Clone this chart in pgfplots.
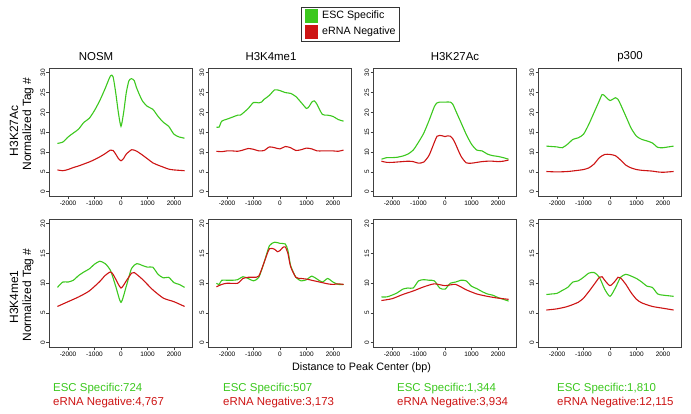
\documentclass[border=0pt]{standalone}
\usepackage{pgfplots}
\pgfplotsset{compat=1.18}
\usepackage{fontspec}
\setmainfont{Liberation Sans}
\definecolor{escg}{RGB}{60,200,30}
\definecolor{ernr}{RGB}{205,20,20}
\pgfplotsset{
  panel/.style={
    scale only axis, width=143bp, height=128.5bp,
    anchor=south west,
    xmin=-2700, xmax=2700,
    xtick={-2000,-1000,0,1000,2000},
    axis line style={black!75, line width=0.7bp},
    tick style={black!75, line width=0.6bp},
    tick align=outside, major tick length=3bp,
    xtick pos=bottom, ytick pos=left,
    tick label style={font=\fontsize{6.5}{7.5}\selectfont},
    xticklabel style={inner sep=1bp},
    yticklabel style={rotate=90, anchor=south, inner sep=1bp},
    /pgf/number format/assume math mode=true,
    /pgf/number format/1000 sep={},
    scaled ticks=false,
    clip=false,
  },
  toprow/.style={ymin=-1.2, ymax=31.2, ytick={0,5,...,30}},
  botrow/.style={ymin=-0.8, ymax=20.8, ytick={0,5,...,20}},
  gline/.style={escg, line width=1.1bp, smooth, tension=0.4},
  rline/.style={ernr, line width=1.1bp, smooth, tension=0.4},
}
\begin{document}
\begin{tikzpicture}
\useasboundingbox (0,0) rectangle (691bp,414bp);
% ---------- top row ----------
\begin{axis}[panel, toprow, at={(49.5bp,217.5bp)}]
\addplot[gline] coordinates {(-2400,12.2)(-2200,12.5)(-2000,13.8)(-1800,14.8)(-1600,15.8)(-1400,17.5)(-1200,18.5)(-1000,20.5)(-800,23)(-600,26)(-400,29.2)(-300,29)(-200,25)(-100,20)(0,16.5)(100,20)(200,25)(300,28)(400,28.5)(500,28)(600,26)(800,23)(1000,21.5)(1200,20.8)(1400,19)(1600,17.5)(1800,16.5)(2000,14.5)(2200,13.8)(2400,13.5)};
\addplot[rline] coordinates {(-2400,5.5)(-2200,5.3)(-2000,5.6)(-1800,6.1)(-1600,6.5)(-1400,7.0)(-1200,7.5)(-1000,8.1)(-800,8.8)(-600,9.6)(-400,10.5)(-300,10.4)(-200,9.5)(-100,8.4)(0,7.8)(100,8.4)(200,9.5)(400,10.6)(500,10.5)(600,10.2)(800,9.3)(1000,8.3)(1200,7.3)(1400,6.7)(1600,6.2)(1800,5.7)(2000,5.5)(2200,5.4)(2400,5.3)};
\end{axis}
\begin{axis}[panel, toprow, at={(208.5bp,217.5bp)}]
\addplot[gline] coordinates {(-2400,16.3)(-2300,16.3)(-2200,17.8)(-2000,18.3)(-1800,18.8)(-1600,19.3)(-1500,19.3)(-1400,19.8)(-1200,21)(-1000,22.5)(-800,22.4)(-700,22.6)(-600,23.3)(-400,24.3)(-200,25.7)(0,25.5)(200,25)(400,24.8)(600,24)(800,22.5)(1000,21)(1100,21.5)(1200,22.6)(1300,22.9)(1400,22)(1600,19.5)(1800,19.3)(2000,19)(2200,18.2)(2400,17.8)};
\addplot[rline] coordinates {(-2400,10.2)(-2200,10.1)(-2000,10.3)(-1800,10.3)(-1600,10.2)(-1400,10.5)(-1200,10.9)(-1000,10.7)(-800,10.3)(-600,10.4)(-400,11.3)(-200,11.1)(0,10.8)(200,11.4)(400,11.1)(600,10.4)(800,10.6)(1000,11.0)(1200,10.8)(1400,10.3)(1600,10.3)(1800,10.3)(2000,10.3)(2200,10.2)(2400,10.5)};
\end{axis}
\begin{axis}[panel, toprow, at={(373.5bp,217.5bp)}]
\addplot[gline] coordinates {(-2400,8.2)(-2200,8.6)(-2000,8.6)(-1800,8.7)(-1600,9.0)(-1400,9.5)(-1200,10.5)(-1000,12.5)(-800,14.8)(-600,18)(-400,21.5)(-300,22.4)(-200,22.6)(0,22.6)(200,22.6)(300,22)(400,20.5)(600,17.5)(800,14.5)(1000,12)(1200,10.5)(1400,10.3)(1600,9.5)(1800,9.1)(2000,8.9)(2200,8.6)(2400,8.2)};
\addplot[rline] coordinates {(-2400,7.7)(-2200,7.4)(-2000,7.4)(-1800,7.5)(-1600,7.6)(-1400,7.7)(-1200,7.6)(-1000,7.2)(-800,7.5)(-600,9.2)(-400,12.5)(-300,14)(-200,14.2)(-100,14.1)(0,13.9)(100,14.1)(200,14)(300,13.3)(400,12)(600,9)(800,7.3)(1000,7.2)(1200,7.4)(1400,7.6)(1600,7.7)(1800,7.7)(2000,7.6)(2200,7.7)(2400,8.0)};
\end{axis}
\begin{axis}[panel, toprow, at={(538.5bp,217.5bp)}]
\addplot[gline] coordinates {(-2400,11.5)(-2200,11.4)(-2000,11.3)(-1800,11.1)(-1600,12)(-1400,13.2)(-1200,13.6)(-1000,14.5)(-800,17)(-600,20)(-400,23)(-300,24.5)(-200,24.2)(-100,23.5)(0,23)(100,23.3)(200,23.7)(300,23.3)(400,22)(600,19)(800,16)(1000,14)(1200,13.2)(1400,12.8)(1600,12.3)(1800,11.2)(2000,11.1)(2200,11.3)(2400,11.5)};
\addplot[rline] coordinates {(-2400,5.1)(-2000,5.0)(-1600,5.1)(-1200,5.4)(-1000,5.6)(-800,6.0)(-600,7.0)(-400,8.6)(-200,9.4)(0,9.4)(200,9.1)(400,8)(600,6.7)(800,6.0)(1000,5.6)(1200,5.4)(1400,5.3)(1600,5.2)(1800,5.0)(2000,4.9)(2200,5.0)(2400,5.1)};
\end{axis}
% ---------- bottom row ----------
\begin{axis}[panel, botrow, at={(49.5bp,66.5bp)}]
\addplot[gline] coordinates {(-2400,9.3)(-2200,10.2)(-2000,10.2)(-1800,10.5)(-1600,11.3)(-1400,11.9)(-1200,12.4)(-1000,13.2)(-800,13.7)(-600,13.3)(-400,12.2)(-200,9.5)(0,6.8)(200,9.5)(400,12.5)(600,13.3)(800,13.0)(1000,12.7)(1200,12.7)(1400,11.5)(1600,10.9)(1800,11)(2000,10.1)(2200,9.8)(2400,9.3)};
\addplot[rline] coordinates {(-2400,6.1)(-2000,6.9)(-1600,7.7)(-1200,8.7)(-800,10.3)(-600,11.3)(-400,11.9)(-300,11.5)(-200,10.7)(0,9.2)(200,10.4)(400,11.7)(500,11.8)(800,10.7)(1200,8.9)(1600,7.5)(2000,6.9)(2400,6.1)};
\end{axis}
\begin{axis}[panel, botrow, at={(208.5bp,66.5bp)}]
\addplot[gline] coordinates {(-2400,10)(-2300,9.8)(-2200,10.5)(-2000,10.5)(-1800,10.5)(-1600,10.6)(-1400,11.1)(-1200,10.8)(-1000,10.4)(-800,11)(-600,13.5)(-400,16.3)(-200,16.9)(0,16.7)(200,16.6)(300,15.5)(400,13)(600,11)(800,10.4)(1000,10.6)(1200,11.2)(1400,10.7)(1600,10.2)(1800,10.8)(2000,10.2)(2200,9.8)(2400,9.8)};
\addplot[rline] coordinates {(-2400,9.4)(-2200,9.8)(-2000,10)(-1600,10)(-1400,10.8)(-1200,11)(-1000,11.0)(-800,11.2)(-600,13.5)(-400,15.8)(-200,15.7)(-100,15.3)(0,15.5)(100,16.0)(200,16.1)(300,15)(400,12.8)(600,11)(800,10.8)(1000,10.7)(1200,10.5)(1400,10.3)(1600,10.1)(1800,9.9)(2000,9.8)(2200,9.9)(2400,9.8)};
\end{axis}
\begin{axis}[panel, botrow, at={(373.5bp,66.5bp)}]
\addplot[gline] coordinates {(-2400,7.7)(-2200,7.7)(-2000,8.0)(-1800,8.4)(-1600,9.0)(-1400,9.2)(-1200,9.2)(-1000,10.4)(-800,10.6)(-600,10.5)(-400,10.4)(-200,9.2)(0,9.0)(200,10)(400,10.2)(600,10.5)(800,10.4)(1000,9.5)(1200,9.1)(1400,8.6)(1600,8.2)(1800,8.0)(2000,7.6)(2200,7.3)(2400,7.0)};
\addplot[rline] coordinates {(-2400,7.1)(-2000,7.4)(-1600,8.1)(-1200,8.7)(-800,9.4)(-400,9.9)(0,9.6)(400,9.8)(800,8.9)(1200,8.2)(1600,7.8)(2000,7.5)(2400,7.3)};
\end{axis}
\begin{axis}[panel, botrow, at={(538.5bp,66.5bp)}]
\addplot[gline] coordinates {(-2400,8.1)(-2200,8.2)(-2000,8.3)(-1800,8.8)(-1600,9.3)(-1400,10.2)(-1200,10.4)(-1000,11)(-800,11.7)(-600,11.8)(-400,11)(-200,9)(0,7.8)(200,9.2)(400,11)(600,11.5)(800,11.2)(1000,10.8)(1200,10.2)(1400,9.5)(1600,9.3)(1800,8.2)(2000,8.0)(2200,7.9)(2400,7.8)};
\addplot[rline] coordinates {(-2400,5.5)(-2000,5.7)(-1600,6.1)(-1200,6.8)(-1000,7.5)(-800,8.6)(-600,9.8)(-400,11.0)(-300,11.1)(-200,10.5)(0,9.6)(200,10.4)(300,11)(400,10.9)(600,9.8)(800,8.4)(1000,7.3)(1200,6.7)(1600,6.1)(2000,5.8)(2400,5.5)};
\end{axis}
% ---------- titles ----------
\begin{scope}[every node/.style={font=\fontsize{11.5}{13}\selectfont, inner sep=0pt}]
\node at (96bp,357bp) {NOSM};
\node at (271bp,357bp) {H3K4me1};
\node at (455bp,357bp) {H3K27Ac};
\node at (630bp,357bp) {p300};
\end{scope}
% ---------- row labels ----------
\begin{scope}[every node/.style={font=\fontsize{12}{13}\selectfont, inner sep=0pt, rotate=90}]
\node at (14bp,283bp) {H3K27Ac};
\node at (28bp,290bp) {Normalized Tag \#};
\node at (14bp,117bp) {H3K4me1};
\node at (28bp,119bp) {Normalized Tag \#};
\end{scope}
\node[font=\fontsize{10.8}{12}\selectfont, inner sep=0pt] at (361.5bp,46bp) {Distance to Peak Center (bp)};
% ---------- counts ----------
\begin{scope}[every node/.style={font=\fontsize{11.5}{13}\selectfont, inner sep=0pt, anchor=base west}]
\node[text=escg] at (53bp,23bp) {ESC Specific:724};
\node[text=ernr] at (53bp,9bp) {eRNA Negative:4,767};
\node[text=escg] at (223bp,23bp) {ESC Specific:507};
\node[text=ernr] at (223bp,9bp) {eRNA Negative:3,173};
\node[text=escg] at (397bp,23bp) {ESC Specific:1,344};
\node[text=ernr] at (397bp,9bp) {eRNA Negative:3,934};
\node[text=escg] at (557bp,23bp) {ESC Specific:1,810};
\node[text=ernr] at (557bp,9bp) {eRNA Negative:12,115};
\end{scope}
% ---------- legend ----------
\draw[black!80, line width=0.6bp] (301bp,373bp) rectangle (399bp,407bp);
\fill[escg] (305bp,391bp) rectangle (318bp,405bp);
\fill[ernr] (305bp,375bp) rectangle (318bp,389bp);
\node[font=\fontsize{10.7}{12}\selectfont, inner sep=0pt, anchor=west] at (322bp,398bp) {ESC Specific};
\node[font=\fontsize{10.7}{12}\selectfont, inner sep=0pt, anchor=west] at (322bp,382bp) {eRNA Negative};
\end{tikzpicture}
\end{document}
